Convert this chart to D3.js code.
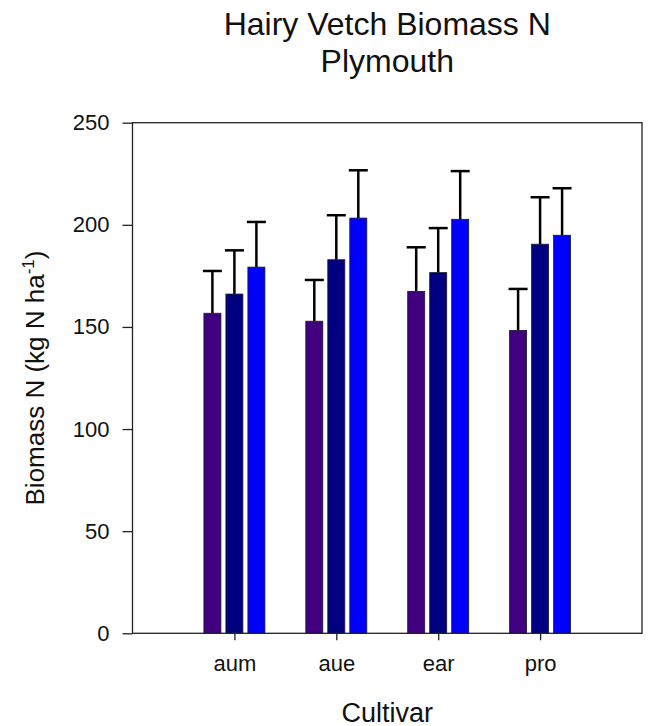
<!DOCTYPE html>
<html>
<head>
<meta charset="utf-8">
<script src="https://cdn.jsdelivr.net/npm/d3@7"></script>
<style>
  body { margin: 0; background: #fff; }
  svg text { font-family: "Liberation Sans", Arial, sans-serif; fill: #111; }
</style>
</head>
<body>
<script>
// cultivars on the x axis
var cultivars = ["aum", "aue", "ear", "pro"];
var seriesNames = ["s1", "s2", "s3"];
var seriesColors = ["#400080", "#000080", "#0000ff"];

// bar heights (kg N / ha), one array per series
var meanS1 = [156.7, 152.8, 167.4, 148.3];
var meanS2 = [166.1, 182.9, 176.6, 190.5];
var meanS3 = [179.3, 203.3, 202.7, 194.9];

// upper error bars
var errS1 = [20.7, 20.2, 21.6, 20.3];
var errS2 = [21.4, 21.8, 21.8, 23.0];
var errS3 = [22.1, 23.4, 23.6, 23.0];

var yTicks = [0, 50, 100, 150, 200, 250];

var means = [meanS1, meanS2, meanS3];
var errs = [errS1, errS2, errS3];

var w = 649, h = 726;
var plotLeft = 132.5, plotRight = 642, plotTop = 122.7, plotBottom = 633.3;

var svg = d3.select("body").append("svg")
  .attr("width", w)
  .attr("height", h);

var x = d3.scaleLinear().domain([0, cultivars.length + 1]).range([plotLeft, plotRight]);
var y = d3.scaleLinear().domain([0, 250]).range([plotBottom, plotTop]);
var inner = d3.scaleBand().domain(seriesNames).range([-30.5, 30.5]).paddingInner(0.227);

// flatten into one row per bar
var bars = [];
cultivars.forEach(function(c, i) {
  seriesNames.forEach(function(s, j) {
    bars.push({ cat: i + 1, series: s, idx: j, value: means[j][i], err: errs[j][i] });
  });
});

function barMid(d) { return x(d.cat) + inner(d.series) + inner.bandwidth() / 2; }

var plot = svg.append("g");

// error bars first, bars drawn over the lower part
plot.selectAll("line.err")
  .data(bars)
  .enter()
  .append("line")
  .attr("class", "err")
  .attr("x1", barMid)
  .attr("x2", barMid)
  .attr("y1", function(d) { return y(d.value); })
  .attr("y2", function(d) { return y(d.value + d.err); })
  .attr("stroke", "#000")
  .attr("stroke-width", 2.5);

plot.selectAll("line.cap")
  .data(bars)
  .enter()
  .append("line")
  .attr("class", "cap")
  .attr("x1", function(d) { return barMid(d) - 9.5; })
  .attr("x2", function(d) { return barMid(d) + 9.5; })
  .attr("y1", function(d) { return y(d.value + d.err); })
  .attr("y2", function(d) { return y(d.value + d.err); })
  .attr("stroke", "#000")
  .attr("stroke-width", 2.5);

plot.selectAll("rect")
  .data(bars)
  .enter()
  .append("rect")
  .attr("x", function(d) { return x(d.cat) + inner(d.series); })
  .attr("y", function(d) { return y(d.value); })
  .attr("width", inner.bandwidth())
  .attr("height", function(d) { return y(0) - y(d.value); })
  .attr("fill", function(d) { return seriesColors[d.idx]; })
  .attr("stroke", "#1a1a2a")
  .attr("stroke-width", 0.8);

// frame
svg.append("rect")
  .attr("x", plotLeft).attr("y", plotTop)
  .attr("width", plotRight - plotLeft).attr("height", plotBottom - plotTop)
  .attr("fill", "none")
  .attr("stroke", "#222")
  .attr("stroke-width", 1.3);

// axes
var yAxis = svg.append("g")
  .attr("transform", "translate(" + plotLeft + ",0)")
  .call(d3.axisLeft(y).tickValues(yTicks).tickSize(10).tickPadding(13));

var xAxis = svg.append("g")
  .attr("transform", "translate(0," + plotBottom + ")")
  .call(d3.axisBottom(x).tickValues([1, 2, 3, 4]).tickSize(7).tickPadding(15)
    .tickFormat(function(d) { return cultivars[d - 1]; }));

[yAxis, xAxis].forEach(function(a) {
  a.select(".domain").remove();
  a.selectAll(".tick line").attr("stroke", "#222").attr("stroke-width", 1.3);
  a.selectAll(".tick text").attr("font-size", 22).attr("fill", "#111")
    .style("font-family", "'Liberation Sans', Arial, sans-serif");
});

// titles
var cx = (plotLeft + plotRight) / 2;
svg.append("text")
  .attr("x", cx).attr("y", 35)
  .attr("text-anchor", "middle")
  .attr("font-size", 32)
  .text("Hairy Vetch Biomass N");
svg.append("text")
  .attr("x", cx).attr("y", 71.7)
  .attr("text-anchor", "middle")
  .attr("font-size", 32)
  .text("Plymouth");

svg.append("text")
  .attr("x", cx).attr("y", 722)
  .attr("text-anchor", "middle")
  .attr("font-size", 27)
  .text("Cultivar");

var yl = svg.append("text")
  .attr("transform", "translate(43.5," + ((plotTop + plotBottom) / 2) + ") rotate(-90)")
  .attr("text-anchor", "middle")
  .attr("font-size", 26);
yl.append("tspan").text("Biomass N (kg N ha");
yl.append("tspan").attr("font-size", 17).attr("dy", -10).text("-1");
yl.append("tspan").attr("dy", 10).text(")");
</script>
</body>
</html>
